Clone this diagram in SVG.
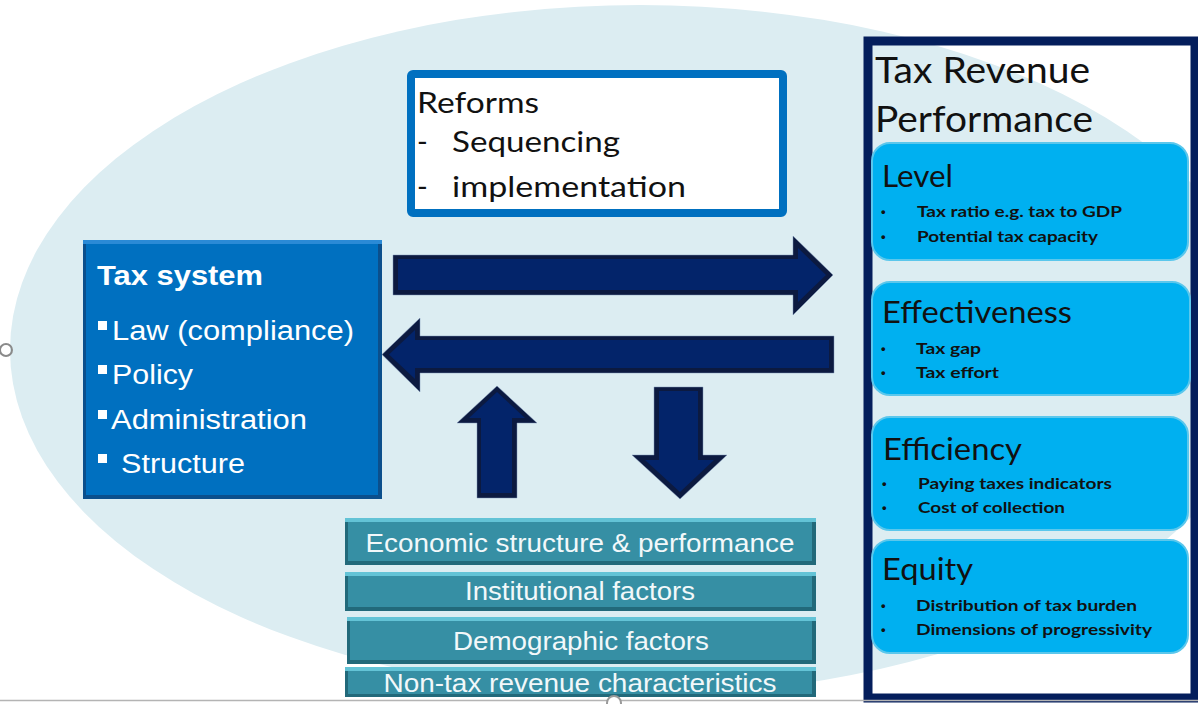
<svg xmlns="http://www.w3.org/2000/svg" width="1198" height="704" viewBox="0 0 1198 704">
  <defs>
    <style>
      .sans { font-family: "Liberation Sans", Arial, sans-serif; }
      .cal { font-family: Lato, "Noto Sans", sans-serif; }
      .white { fill: #ffffff; }
      .dark { fill: #111111; }
      .arrow-base { fill: #0c1a40; stroke: #7d93b8; stroke-width: 0.8; stroke-opacity: 0.6; }
      .arrow-face { fill: #03246a; }
      .bar-base { fill: #22697a; }
      .bar-top { fill: #63c3d6; }
      .bar-face { fill: #368fa4; }
      .bar-text { font-family: "Liberation Sans", Arial, sans-serif; font-size: 26px; fill: #f2f8fa; text-anchor: middle; }
      .card { fill: #00b0f0; stroke: #5bc7ec; stroke-width: 2; }
      .card-title { font-family: Lato, "Noto Sans", sans-serif; font-size: 30px; fill: #111111; }
      .card-item { font-family: Lato, "Noto Sans", sans-serif; font-size: 16px; font-weight: bold; fill: #111111; }
      .dot { font-family: "Liberation Sans", Arial, sans-serif; font-size: 13px; font-weight: bold; fill: #111111; }
    </style>
  </defs>

  <!-- page background and backdrop ellipse -->
  <rect x="0" y="0" width="1198" height="704" fill="#ffffff"/>
  <ellipse cx="640" cy="350" rx="630" ry="345" fill="#dcedf2"/>

  <!-- Tax system -->
  <g id="tax-system">
    <rect x="83" y="240" width="299" height="259" fill="#0b4f8c"/>
    <rect x="83" y="240" width="299" height="4" fill="#2a8ad6"/>
    <rect x="86" y="244" width="292" height="251" fill="#0070c0"/>
    <text class="sans white" x="97" y="285" font-size="27" font-weight="bold" textLength="166" lengthAdjust="spacingAndGlyphs">Tax system</text>
    <rect x="98" y="321" width="9" height="9" fill="#ffffff"/>
    <text class="sans white" x="112" y="340" font-size="27" textLength="242" lengthAdjust="spacingAndGlyphs">Law (compliance)</text>
    <rect x="98" y="365" width="9" height="9" fill="#ffffff"/>
    <text class="sans white" x="112" y="384" font-size="27" textLength="81" lengthAdjust="spacingAndGlyphs">Policy</text>
    <rect x="98" y="410" width="9" height="9" fill="#ffffff"/>
    <text class="sans white" x="111" y="429" font-size="27" textLength="196" lengthAdjust="spacingAndGlyphs">Administration</text>
    <rect x="98" y="454" width="9" height="9" fill="#ffffff"/>
    <text class="sans white" x="121" y="473" font-size="27" textLength="124" lengthAdjust="spacingAndGlyphs">Structure</text>
  </g>

  <!-- Reforms -->
  <g id="reforms">
    <rect x="411" y="74" width="372" height="139" rx="2" fill="#ffffff" stroke="#0070c0" stroke-width="8"/>
    <text class="cal dark" x="417" y="113" font-size="29" textLength="122" lengthAdjust="spacingAndGlyphs">Reforms</text>
    <text class="cal dark" x="417" y="152" font-size="29">-</text>
    <text class="cal dark" x="452" y="152" font-size="29" textLength="168" lengthAdjust="spacingAndGlyphs">Sequencing</text>
    <text class="cal dark" x="417" y="197" font-size="29">-</text>
    <text class="cal dark" x="452" y="197" font-size="29" textLength="234" lengthAdjust="spacingAndGlyphs">implementation</text>
  </g>

  <!-- block arrows between the parts -->
  <g id="connectors">
    <polygon class="arrow-base" points="393,255 793,255 793,236 833,275 793,315 793,295 393,295"/>
    <polygon class="arrow-face" points="398,259 798,259 798,248 826,275 798,302 798,290 398,290"/>

    <polygon class="arrow-base" points="834,336 420,336 420,318 382,354.5 420,392 420,373 834,373"/>
    <polygon class="arrow-face" points="829,340 415,340 415,330 389,354.5 415,379 415,368 829,368"/>

    <polygon class="arrow-base" points="477,498 477,423 457,423 497,386 537,423 517,423 517,498"/>
    <polygon class="arrow-face" points="481,493 481,418 469,418 497,392 525,418 512,418 512,493"/>

    <polygon class="arrow-base" points="654,387 703,387 703,455 727,455 680,499 632,455 654,455"/>
    <polygon class="arrow-face" points="659,391 698,391 698,460 714,460 680,492 645,460 659,460"/>
  </g>

  <!-- driving factors -->
  <g id="factor-economic">
    <rect class="bar-base" x="345" y="518" width="471" height="47"/>
    <rect class="bar-top" x="345" y="518" width="471" height="4"/>
    <rect class="bar-face" x="348" y="522" width="464" height="39"/>
    <text class="bar-text" x="580" y="552" textLength="429" lengthAdjust="spacingAndGlyphs">Economic structure &amp; performance</text>
  </g>
  <g id="factor-institutional">
    <rect class="bar-base" x="345" y="572" width="471" height="39"/>
    <rect class="bar-top" x="345" y="572" width="471" height="4"/>
    <rect class="bar-face" x="348" y="576" width="464" height="31"/>
    <text class="bar-text" x="580" y="600" textLength="230" lengthAdjust="spacingAndGlyphs">Institutional factors</text>
  </g>
  <g id="factor-demographic">
    <rect class="bar-base" x="347" y="617" width="469" height="47"/>
    <rect class="bar-top" x="347" y="617" width="469" height="4"/>
    <rect class="bar-face" x="350" y="621" width="462" height="39"/>
    <text class="bar-text" x="581" y="650" textLength="256" lengthAdjust="spacingAndGlyphs">Demographic factors</text>
  </g>
  <g id="factor-nontax">
    <rect class="bar-base" x="345" y="667" width="471" height="30"/>
    <rect class="bar-top" x="345" y="667" width="471" height="4"/>
    <rect class="bar-face" x="348" y="671" width="464" height="23"/>
    <text class="bar-text" x="580" y="692" textLength="393" lengthAdjust="spacingAndGlyphs">Non-tax revenue characteristics</text>
  </g>

  <!-- Tax Revenue Performance panel -->
  <g id="tax-revenue-performance">
    <rect x="868" y="41" width="327" height="657" fill="none" stroke="#041e5c" stroke-width="9"/>
    <text class="cal dark" x="875" y="83" font-size="37" textLength="215" lengthAdjust="spacingAndGlyphs">Tax Revenue</text>
    <text class="cal dark" x="875" y="132" font-size="37" textLength="218" lengthAdjust="spacingAndGlyphs">Performance</text>
  </g>

  <g id="level">
    <rect class="card" x="872" y="143" width="316" height="117" rx="18"/>
    <text class="card-title" x="882" y="187" textLength="71" lengthAdjust="spacingAndGlyphs">Level</text>
    <text class="dot" x="881" y="216">•</text>
    <text class="card-item" x="917" y="217" textLength="205" lengthAdjust="spacingAndGlyphs">Tax ratio e.g. tax to GDP</text>
    <text class="dot" x="881" y="241">•</text>
    <text class="card-item" x="917" y="242" textLength="181" lengthAdjust="spacingAndGlyphs">Potential tax capacity</text>
  </g>

  <g id="effectiveness">
    <rect class="card" x="872" y="282" width="318" height="113" rx="18"/>
    <text class="card-title" x="882" y="323" textLength="190" lengthAdjust="spacingAndGlyphs">Effectiveness</text>
    <text class="dot" x="881" y="353">•</text>
    <text class="card-item" x="916" y="354" textLength="65" lengthAdjust="spacingAndGlyphs">Tax gap</text>
    <text class="dot" x="881" y="377">•</text>
    <text class="card-item" x="916" y="378" textLength="83" lengthAdjust="spacingAndGlyphs">Tax effort</text>
  </g>

  <g id="efficiency">
    <rect class="card" x="872" y="417" width="316" height="113" rx="18"/>
    <text class="card-title" x="883" y="460" textLength="139" lengthAdjust="spacingAndGlyphs">Efficiency</text>
    <text class="dot" x="882" y="488">•</text>
    <text class="card-item" x="918" y="489" textLength="194" lengthAdjust="spacingAndGlyphs">Paying taxes indicators</text>
    <text class="dot" x="882" y="512">•</text>
    <text class="card-item" x="918" y="513" textLength="147" lengthAdjust="spacingAndGlyphs">Cost of collection</text>
  </g>

  <g id="equity">
    <rect class="card" x="872" y="540" width="316" height="113" rx="18"/>
    <text class="card-title" x="882" y="580" textLength="91" lengthAdjust="spacingAndGlyphs">Equity</text>
    <text class="dot" x="881" y="610">•</text>
    <text class="card-item" x="916" y="611" textLength="221" lengthAdjust="spacingAndGlyphs">Distribution of tax burden</text>
    <text class="dot" x="881" y="634">•</text>
    <text class="card-item" x="916" y="635" textLength="236" lengthAdjust="spacingAndGlyphs">Dimensions of progressivity</text>
  </g>

  <!-- frame edge and sizing handles -->
  <line x1="0" y1="700.5" x2="1198" y2="700.5" stroke="#b4b4b4" stroke-width="1.5"/>
  <circle cx="614" cy="703" r="7" fill="#ffffff" stroke="#9a9a9a" stroke-width="2"/>
  <circle cx="6" cy="350" r="6" fill="none" stroke="#8a8a8a" stroke-width="2"/>
</svg>
